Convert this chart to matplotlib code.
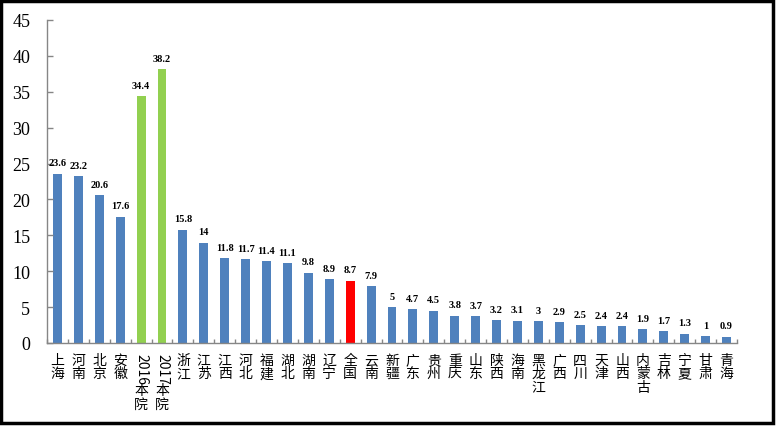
import matplotlib.pyplot as plt
from matplotlib.patches import Rectangle
from matplotlib.transforms import blended_transform_factory

names = ["上海", "河南", "北京", "安徽", "2016本院", "2017本院", "浙江", "江苏", "江西", "河北",
         "福建", "湖北", "湖南", "辽宁", "全国", "云南", "新疆", "广东", "贵州", "重庆",
         "山东", "陕西", "海南", "黑龙江", "广西", "四川", "天津", "山西", "内蒙古", "吉林",
         "宁夏", "甘肃", "青海"]
values = [23.6, 23.2, 20.6, 17.6, 34.4, 38.2, 15.8, 14, 11.8, 11.7,
          11.4, 11.1, 9.8, 8.9, 8.7, 7.9, 5, 4.7, 4.5, 3.8,
          3.7, 3.2, 3.1, 3, 2.9, 2.5, 2.4, 2.4, 1.9, 1.7,
          1.3, 1, 0.9]
hospital = ["2016本院", "2017本院"]
national = "全国"

blue, green, red = "#4F81BD", "#92D050", "#FF0000"
colors = [green if n in hospital else red if n == national else blue for n in names]

fig = plt.figure(figsize=(7.76, 4.27), dpi=100)
ax = fig.add_axes([47 / 776, 1 - 344 / 427, 690 / 776, 323 / 427])

x = list(range(len(names)))
bars = ax.bar(x, values, width=0.43, color=colors)

# value labels
for xi, v in zip(x, values):
    ax.annotate(f"{v:g}", (xi, v), xytext=(0, 4.5), textcoords="offset points",
                ha="center", va="bottom", fontsize=7.5, fontweight="bold",
                family="Liberation Serif")

ax.set_xlim(-0.5, len(names) - 0.5)
ax.set_ylim(0, 45)
ax.set_yticks(range(0, 46, 5))
ax.set_yticklabels([str(t) for t in range(0, 46, 5)], family="Liberation Serif", fontsize=13)
ax.tick_params(axis="y", direction="in", length=4, width=1, color="#868686", pad=12)

# ticks between categories
ax.set_xticks([i + 0.5 for i in range(-1, len(names))])
ax.set_xticklabels([])
ax.tick_params(axis="x", direction="in", length=3, width=1, color="#868686")

for s in ["top", "right"]:
    ax.spines[s].set_visible(False)
for s in ["left", "bottom"]:
    ax.spines[s].set_color("#868686")
    ax.spines[s].set_linewidth(1)

# vertical category labels
trans = blended_transform_factory(ax.transData, ax.transAxes)
cjk = ["Noto Sans CJK SC", "DejaVu Sans"]
for xi, n in zip(x, names):
    if n[0].isdigit():
        digits = n.rstrip("本院")
        rest = n[len(digits):]
        ax.annotate(digits, (xi, 0), xycoords=trans, xytext=(0, -7), textcoords="offset points",
                    ha="center", va="top", rotation=-90, fontsize=10, family=cjk)
        ax.annotate("\n".join(rest), (xi, 0), xycoords=trans, xytext=(0, -29),
                    textcoords="offset points", ha="center", va="top", fontsize=10,
                    family=cjk, linespacing=0.95)
    else:
        ax.annotate("\n".join(n), (xi, 0), xycoords=trans, xytext=(0, -7),
                    textcoords="offset points", ha="center", va="top", fontsize=10,
                    family=cjk, linespacing=0.95)

# outer frame
fig.patches.append(Rectangle((1 / 776, 3 / 427), 772 / 776, 422 / 427, transform=fig.transFigure,
                             fill=False, edgecolor="black", linewidth=2.5))

fig.savefig("out.png", dpi=100)
